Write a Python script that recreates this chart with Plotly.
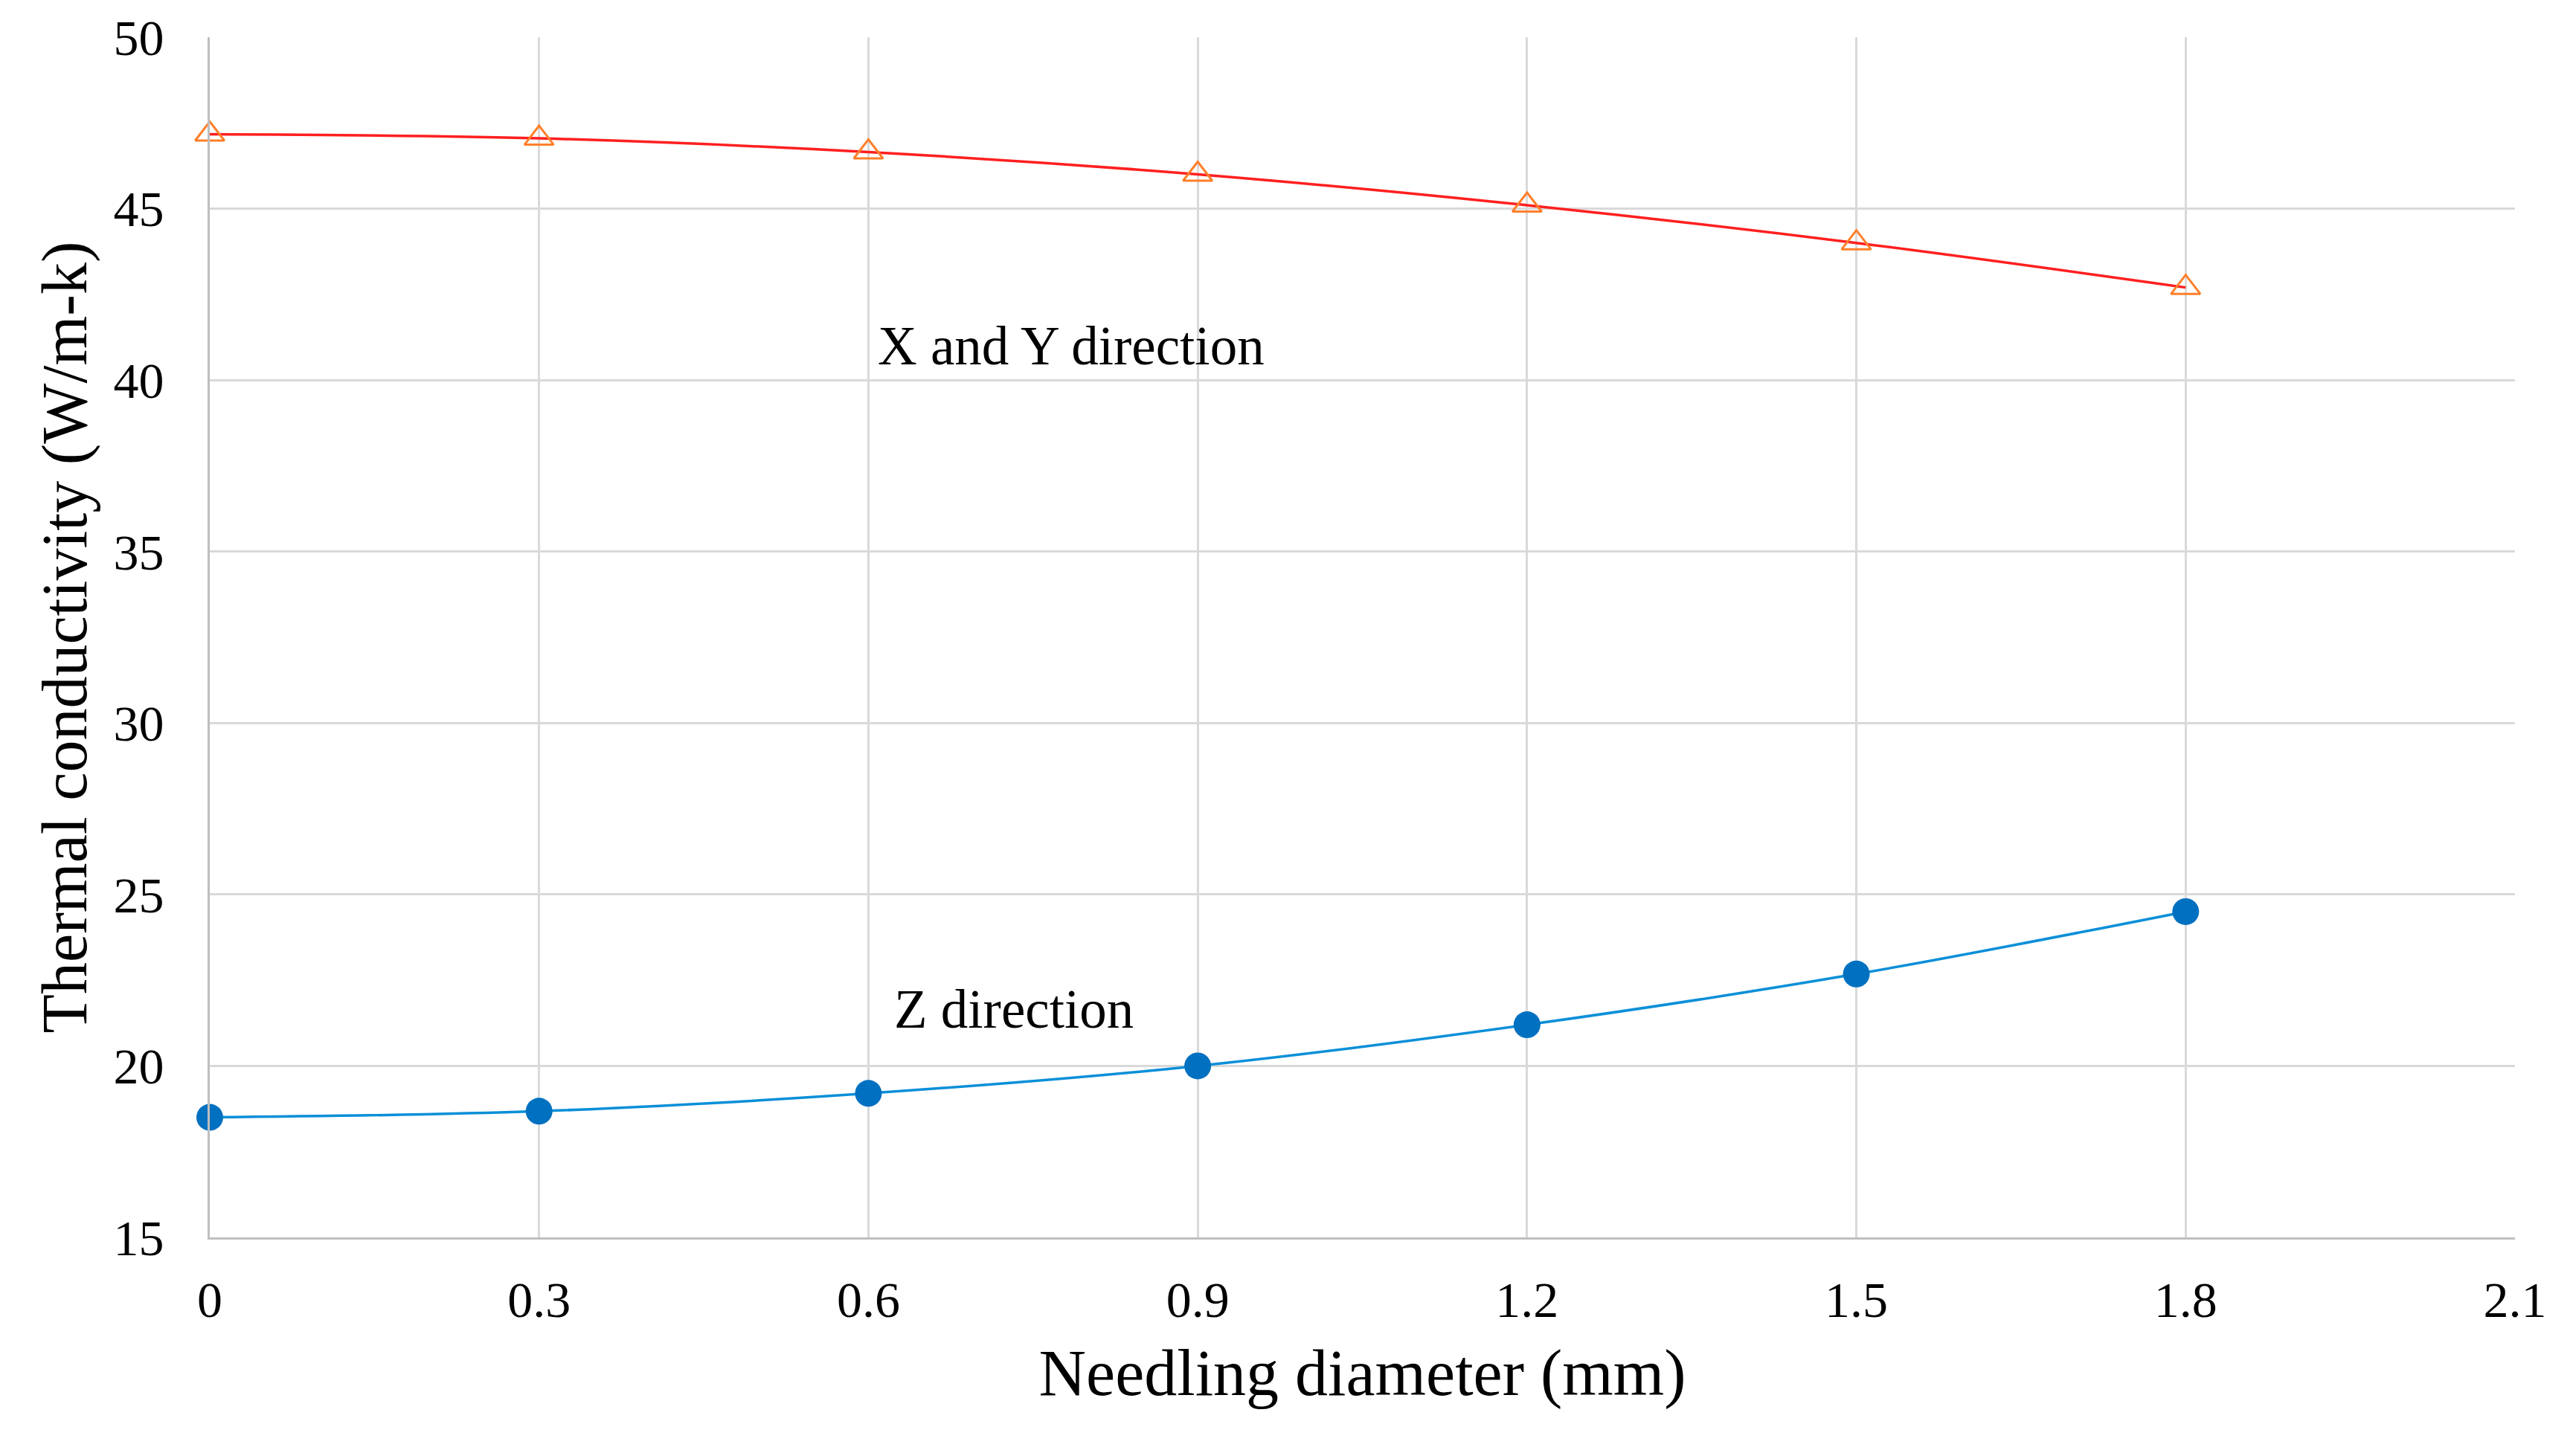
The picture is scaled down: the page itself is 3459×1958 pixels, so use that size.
import plotly.graph_objects as go

# Data
diameter = [0, 0.3, 0.6, 0.9, 1.2, 1.5, 1.8]
k_xy = [47.17, 47.05, 46.65, 46.0, 45.1, 44.0, 42.7]
k_z = [18.5, 18.68, 19.2, 20.0, 21.2, 22.68, 24.5]

x_ticks = [0, 0.3, 0.6, 0.9, 1.2, 1.5, 1.8, 2.1]
x_labels = ['0', '0.3', '0.6', '0.9', '1.2', '1.5', '1.8', '2.1']
y_ticks = [15, 20, 25, 30, 35, 40, 45, 50]

font_family = 'Liberation Serif, Times New Roman, serif'

fig = go.Figure()

fig.add_trace(go.Scatter(
    x=diameter, y=k_xy, name='X and Y direction', mode='lines+markers',
    line=dict(color='#ff1f1f', width=3.5, shape='spline'),
    marker=dict(symbol='triangle-up-open', size=34, color='#ff7f2a', line=dict(width=3)),
    cliponaxis=False
))
fig.add_trace(go.Scatter(
    x=diameter, y=k_z, name='Z direction', mode='lines+markers',
    line=dict(color='#0a8fd8', width=3.5, shape='spline'),
    marker=dict(symbol='circle', size=36, color='#0070c0'),
    cliponaxis=False
))

# inline labels
fig.add_annotation(x=0.607, y=41.0, text='X and Y direction', showarrow=False,
                   xanchor='left', yanchor='middle', font=dict(size=73, color='black', family=font_family))
fig.add_annotation(x=0.622, y=21.65, text='Z direction', showarrow=False,
                   xanchor='left', yanchor='middle', font=dict(size=73, color='black', family=font_family))

fig.update_xaxes(
    range=[0, 2.1], tickvals=x_ticks, ticktext=x_labels,
    showgrid=True, gridcolor='#d9d9d9', gridwidth=3,
    showline=True, linecolor='#bfbfbf', linewidth=3,
    zeroline=False, ticks='', ticklabelstandoff=22, ticklabeloverflow='allow',
    automargin=False,
    tickfont=dict(size=68, color='black', family=font_family),
    title=dict(text='Needling diameter (mm)', standoff=30,
               font=dict(size=88, color='black', family=font_family))
)
fig.update_yaxes(
    range=[15, 50], tickvals=y_ticks,
    showgrid=True, gridcolor='#d9d9d9', gridwidth=3,
    showline=True, linecolor='#bfbfbf', linewidth=3,
    zeroline=False, ticks='', ticklabelstandoff=45, ticklabeloverflow='allow',
    automargin=False,
    tickfont=dict(size=68, color='black', family=font_family),
    title=dict(text='Thermal conductivity (W/m-k)', standoff=8,
               font=dict(size=86, color='black', family=font_family))
)

fig.update_layout(
    width=3459, height=1958,
    margin=dict(l=274, r=86, t=42, b=302, autoexpand=False),
    plot_bgcolor='white', paper_bgcolor='white',
    showlegend=False
)

fig.write_html('out.html')
